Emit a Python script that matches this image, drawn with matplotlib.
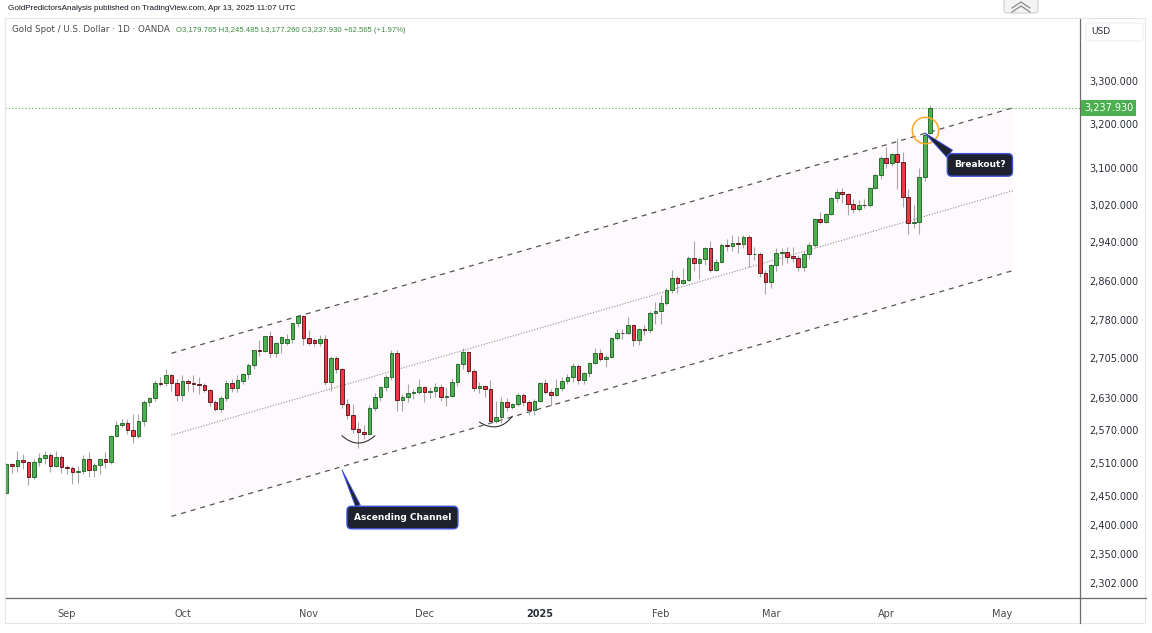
import numpy as np
import pandas as pd
import matplotlib
matplotlib.use('Agg')
import matplotlib.pyplot as plt
from matplotlib import transforms
from matplotlib.patches import FancyBboxPatch, Rectangle
from matplotlib.lines import Line2D
from matplotlib.ticker import FixedLocator, NullLocator

# ---- data (OANDA XAUUSD, daily) ----
closed_days = ['2024-12-25', '2025-01-01', '2025-04-18']
dates = pd.bdate_range('2024-08-16', '2025-04-11').drop(pd.to_datetime(closed_days[:2]))
future = pd.bdate_range('2025-04-14', '2025-05-30').drop(pd.to_datetime(closed_days[2:]))

opens = [2456, 2507, 2504, 2514, 2512, 2485, 2512, 2518, 2524, 2504, 2520,
         2503, 2500, 2493, 2495, 2517, 2497, 2506, 2516, 2512, 2558,
         2578, 2582, 2570, 2559, 2587, 2622, 2629, 2657, 2657, 2672, 2658,
         2634, 2662, 2657, 2656, 2653, 2644, 2622, 2608, 2630, 2657, 2649,
         2662, 2674, 2693, 2721, 2720, 2749, 2715, 2736, 2735, 2743, 2774, 2788,
         2744, 2740, 2736, 2742, 2659, 2706, 2684, 2618, 2598, 2572, 2565,
         2562, 2611, 2631, 2650, 2670, 2715, 2625, 2632, 2638, 2640,
         2650, 2640, 2643, 2650, 2631, 2633, 2660, 2694, 2718, 2680,
         2648, 2652, 2646, 2587, 2594, 2622, 2612, 2617, 2634, 2621, 2606,
         2624, 2658, 2640, 2635, 2649, 2662, 2670, 2690, 2663, 2677, 2697, 2715,
         2703, 2708, 2745, 2755, 2754, 2771, 2740, 2763, 2760, 2794,
         2798, 2815, 2842, 2866, 2856, 2861, 2907, 2897, 2904, 2928,
         2882, 2898, 2935, 2933, 2938, 2936, 2951, 2915, 2916, 2876,
         2857, 2893, 2918, 2920, 2912, 2908, 2889, 2916, 2934, 2990,
         2984, 3000, 3035, 3048, 3044, 3022, 3011, 3020, 3019, 3057, 3085,
         3124, 3113, 3133, 3114, 3037, 2982, 2983, 3082, 3179.765]
highs = [2509, 2510, 2531, 2526, 2513, 2517, 2528, 2531, 2527, 2531, 2524,
         2506, 2504, 2504, 2523, 2529, 2510, 2518, 2529, 2560, 2586,
         2589, 2589, 2600, 2600, 2625, 2632, 2664, 2670, 2685, 2674, 2665,
         2673, 2665, 2672, 2670, 2657, 2646, 2625, 2633, 2664, 2665, 2673,
         2677, 2696, 2722, 2740, 2749, 2759, 2737, 2748, 2752, 2774, 2790, 2790,
         2761, 2745, 2750, 2750, 2710, 2709, 2686, 2627, 2618, 2584, 2578,
         2616, 2639, 2651, 2673, 2721, 2721, 2637, 2656, 2646, 2665,
         2652, 2650, 2657, 2655, 2650, 2668, 2697, 2726, 2720, 2685,
         2660, 2654, 2664, 2624, 2632, 2630, 2620, 2638, 2639, 2625, 2627,
         2660, 2665, 2646, 2665, 2670, 2675, 2697, 2694, 2679, 2698, 2725, 2724,
         2711, 2746, 2763, 2763, 2786, 2772, 2764, 2771, 2799, 2817,
         2830, 2845, 2882, 2870, 2886, 2911, 2942, 2910, 2930, 2942,
         2906, 2938, 2947, 2955, 2954, 2956, 2956, 2930, 2920, 2882,
         2895, 2928, 2928, 2930, 2930, 2914, 2921, 2940, 2991, 3004,
         3002, 3038, 3055, 3057, 3047, 3032, 3030, 3033, 3060, 3087, 3128,
         3149, 3135, 3168, 3136, 3055, 3020, 3100, 3176, 3245.485]
lows = [2455, 2492, 2493, 2498, 2470, 2480, 2504, 2507, 2494, 2502, 2492,
        2490, 2472, 2473, 2489, 2485, 2485, 2490, 2500, 2508, 2556,
        2575, 2562, 2546, 2555, 2576, 2614, 2624, 2651, 2652, 2643, 2624,
        2624, 2643, 2641, 2637, 2640, 2614, 2604, 2603, 2623, 2640, 2640,
        2656, 2665, 2685, 2709, 2717, 2708, 2708, 2715, 2732, 2735, 2766, 2731,
        2732, 2730, 2729, 2653, 2643, 2676, 2611, 2589, 2564, 2537, 2553,
        2561, 2604, 2624, 2643, 2664, 2605, 2605, 2622, 2628, 2636,
        2622, 2630, 2631, 2624, 2614, 2631, 2652, 2685, 2676, 2643,
        2638, 2632, 2583, 2583, 2583, 2604, 2608, 2614, 2615, 2597, 2598,
        2622, 2636, 2614, 2633, 2642, 2656, 2659, 2656, 2656, 2669, 2694, 2699,
        2689, 2705, 2741, 2743, 2752, 2730, 2731, 2750, 2755, 2772,
        2772, 2810, 2835, 2834, 2853, 2859, 2880, 2864, 2893, 2878,
        2880, 2896, 2921, 2922, 2918, 2927, 2889, 2903, 2868, 2833,
        2845, 2880, 2893, 2896, 2898, 2880, 2880, 2905, 2930, 2978,
        2982, 2999, 3027, 3024, 2999, 3002, 3006, 3013, 3016, 3055, 3076,
        3100, 3105, 3054, 3015, 2957, 2970, 2957, 3073, 3177.260]
closes = [2507, 2504, 2514, 2512, 2485, 2512, 2518, 2524, 2504, 2520, 2503,
          2500, 2493, 2495, 2517, 2497, 2506, 2516, 2512, 2558, 2578,
          2582, 2570, 2559, 2587, 2622, 2629, 2657, 2656, 2672, 2658, 2634,
          2662, 2657, 2656, 2653, 2644, 2622, 2608, 2630, 2657, 2649, 2663,
          2674, 2693, 2721, 2720, 2749, 2715, 2736, 2747, 2743, 2774, 2788, 2744,
          2736, 2736, 2742, 2659, 2706, 2684, 2618, 2598, 2572, 2565, 2562,
          2611, 2631, 2650, 2670, 2715, 2625, 2632, 2638, 2640, 2650,
          2640, 2643, 2650, 2631, 2633, 2660, 2694, 2718, 2680, 2648,
          2652, 2646, 2587, 2594, 2622, 2612, 2617, 2634, 2621, 2606, 2624,
          2658, 2640, 2635, 2649, 2662, 2670, 2690, 2663, 2677, 2697, 2715, 2703,
          2708, 2745, 2755, 2754, 2771, 2740, 2763, 2760, 2794, 2798,
          2815, 2842, 2866, 2856, 2861, 2907, 2897, 2904, 2928, 2882,
          2898, 2935, 2933, 2938, 2936, 2951, 2915, 2916, 2876, 2857,
          2893, 2918, 2920, 2910, 2908, 2889, 2916, 2934, 2990, 2984,
          3000, 3035, 3048, 3044, 3022, 3011, 3020, 3019, 3057, 3085, 3124,
          3113, 3133, 3114, 3037, 2982, 2983, 3082, 3175, 3237.930]

price_ticks = [2302, 2350, 2400, 2450, 2510, 2570, 2630, 2705, 2780, 2860,
               2940, 3020, 3100, 3200, 3300]

# drawings: anchor dates and prices
chan_dates = ['2024-09-27', '2025-05-05']
chan_upper = [2715, 3238]
chan_mid = [2560, 3051]
chan_lower = [2415, 2881]
arc_dates = [('2024-11-11', '2024-11-19'), ('2024-12-16', '2024-12-24')]
arc_prices = [(2559, 2559), (2584, 2595)]
callouts = [('Ascending Channel', '2024-11-11', 2497, '2024-11-26', 2413),
            ('Breakout?', '2025-04-10', 3180, '2025-04-25', 3108)]
circle_date, circle_price = '2025-04-10', 3187

W, H = 1152, 633
fig = plt.figure(figsize=(W / 100, H / 100), dpi=100)
fig.patch.set_facecolor('white')


def fx(px):
    return px / W


def fy(py):
    return 1 - py / H


ax = fig.add_axes([fx(5), fy(598), fx(1080) - fx(5), fy(18) - fy(598)])
ax.set_facecolor('white')

all_dates = dates.append(future)
pos = {d.strftime('%Y-%m-%d'): i for i, d in enumerate(all_dates)}
xs = np.arange(len(dates))

o = np.array(opens)
h = np.array(highs)
l = np.array(lows)
c = np.array(closes)
up = c >= o

# channel
cx = [pos[d] for d in chan_dates]
ax.fill([cx[0], cx[1], cx[1], cx[0]],
        [chan_upper[0], chan_upper[1], chan_lower[1], chan_lower[0]],
        color='#fdf9fc', lw=0, zorder=0)
ax.plot(cx, chan_upper, color='#555555', lw=0.9, ls=(0, (4, 4)), zorder=1)
ax.plot(cx, chan_lower, color='#555555', lw=0.9, ls=(0, (4, 4)), zorder=1)
ax.plot(cx, chan_mid, color='#8a8a8a', lw=0.8, ls=(0, (1, 1.5)), zorder=1)

# last price line
ax.axhline(c[-1], color='#4caf50', lw=0.8, ls=(0, (1, 2)), zorder=1)

# candles
ax.vlines(xs, l, h, color='#a6a6a6', lw=0.8, zorder=2)
body_lo = np.minimum(o, c)
body_h = np.maximum(np.abs(c - o), 1.2)
ax.bar(xs[up], body_h[up], bottom=body_lo[up], width=0.7,
       color='#4caf50', edgecolor='#1b5e20', linewidth=0.6, zorder=3)
ax.bar(xs[~up], body_h[~up], bottom=body_lo[~up], width=0.7,
       color='#f23645', edgecolor='#4a0c10', linewidth=0.6, zorder=3)

# smile arcs
for (d1, d2), (p1, p2) in zip(arc_dates, arc_prices):
    ax.annotate('', xy=(pos[d2], p2), xytext=(pos[d1], p1),
                arrowprops=dict(arrowstyle='-', color='#333333', lw=0.8,
                                connectionstyle='arc3,rad=0.45',
                                shrinkA=0, shrinkB=0), zorder=4)

# orange circle
ax.plot(pos[circle_date], circle_price, marker='o', ms=19, mfc='none',
        mec='#ffa726', mew=1.1, zorder=5)

# callouts
for (txt, td, tp, bd, bp), tw, rp in zip(callouts, [0.55, 1.0], [(0.08, 0.9), (0.1, 0.85)]):
    ax.annotate(txt, xy=(pos[td], tp), xytext=(pos[bd], bp),
                ha='center', va='center', color='white', fontsize=6.5,
                fontweight='bold',
                bbox=dict(boxstyle='round,pad=0.75,rounding_size=0.5',
                          fc='#1e222d', ec='#3f51d8', lw=1),
                arrowprops=dict(arrowstyle='wedge,tail_width=%s' % tw,
                                fc='#1e222d', ec='#3f51d8', lw=0.7,
                                relpos=rp, shrinkA=0, shrinkB=0),
                zorder=6)

# axes
ax.set_yscale('log')
ax.set_ylim(2277.6, 3453.6)
ax.set_xlim(-0.27, 195.2)
ax.yaxis.set_major_locator(FixedLocator(price_ticks))
ax.yaxis.set_minor_locator(NullLocator())
ax.set_yticklabels(['{:,.3f}'.format(v) for v in price_ticks])
ax.yaxis.tick_right()
ax.tick_params(axis='y', length=0, pad=7, labelsize=7, labelcolor='#2a2e39')

month_pos, month_lab = [], []
for i, d in enumerate(all_dates):
    if i == 0 or d.month != all_dates[i - 1].month:
        if d >= pd.Timestamp('2024-09-01'):
            month_pos.append(i)
            month_lab.append('2025' if d.month == 1 else d.strftime('%b'))
ax.set_xticks(month_pos)
ax.set_xticklabels(month_lab)
ax.tick_params(axis='x', length=0, pad=8, labelsize=7, labelcolor='#4a4a4a')
for t in ax.get_xticklabels():
    if t.get_text() == '2025':
        t.set_fontweight('bold')
        t.set_color('#2a2e39')

for s in ['top', 'left']:
    ax.spines[s].set_visible(False)
for s in ['right', 'bottom']:
    ax.spines[s].set_color('#6b6b6b')
    ax.spines[s].set_linewidth(0.9)

# panel frame and axis extensions
fig.add_artist(Rectangle((fx(5), fy(623)), fx(1145) - fx(5), fy(18) - fy(623),
                         transform=fig.transFigure, fill=False, ec='#e6e6e6', lw=0.8))
fig.add_artist(Line2D([fx(1080), fx(1146)], [fy(598), fy(598)], color='#6b6b6b', lw=0.9))
fig.add_artist(Line2D([fx(1080), fx(1080)], [fy(598), fy(623)], color='#6b6b6b', lw=0.9))

# last price label
blend = transforms.blended_transform_factory(ax.transAxes, ax.transData)
ax.text(1.0 + 4 / 1075, c[-1], '{:,.3f}'.format(c[-1]), transform=blend,
        ha='left', va='center', fontsize=7, color='white', zorder=7,
        bbox=dict(boxstyle='square,pad=0.3', fc='#4caf50', ec='none'),
        clip_on=False)

# USD box
fig.add_artist(FancyBboxPatch((fx(1086), fy(41)), fx(1143) - fx(1086), fy(23) - fy(41),
                              boxstyle='round,pad=0,rounding_size=0.004',
                              transform=fig.transFigure, fc='white', ec='#eeeeee', lw=0.8))
fig.text(fx(1091), fy(32), 'USD', fontsize=6.5, color='#2a2e39', va='center', ha='left')

# top right icon
fig.add_artist(FancyBboxPatch((fx(1004), fy(13)), fx(1038) - fx(1004), fy(-2) - fy(13),
                              boxstyle='round,pad=0,rounding_size=0.004',
                              transform=fig.transFigure, fc='#f4f4f4', ec='#cfcfcf', lw=0.8))
for dy in [0, 4]:
    fig.add_artist(Line2D([fx(1012), fx(1021), fx(1030)], [fy(8 + dy), fy(2 + dy), fy(8 + dy)],
                          color='#8a8a8a', lw=0.9))

# header and legend
fig.text(fx(8), fy(9), 'GoldPredictorsAnalysis published on TradingView.com, Apr 13, 2025 11:07 UTC',
         fontsize=5.9, color='#131722', va='center', ha='left',
         family=['Liberation Sans', 'DejaVu Sans'])
fig.text(fx(12), fy(30), 'Gold Spot / U.S. Dollar \u00b7 1D \u00b7 OANDA',
         fontsize=6.3, color='#4a4a4a', va='center', ha='left')
fig.text(fx(176), fy(30), 'O3,179.765 H3,245.485 L3,177.260 C3,237.930 +62.565 (+1.97%)',
         fontsize=5.6, color='#3d8b40', va='center', ha='left',
         family=['Liberation Sans', 'DejaVu Sans'])

fig.savefig('out.png', dpi=100)
